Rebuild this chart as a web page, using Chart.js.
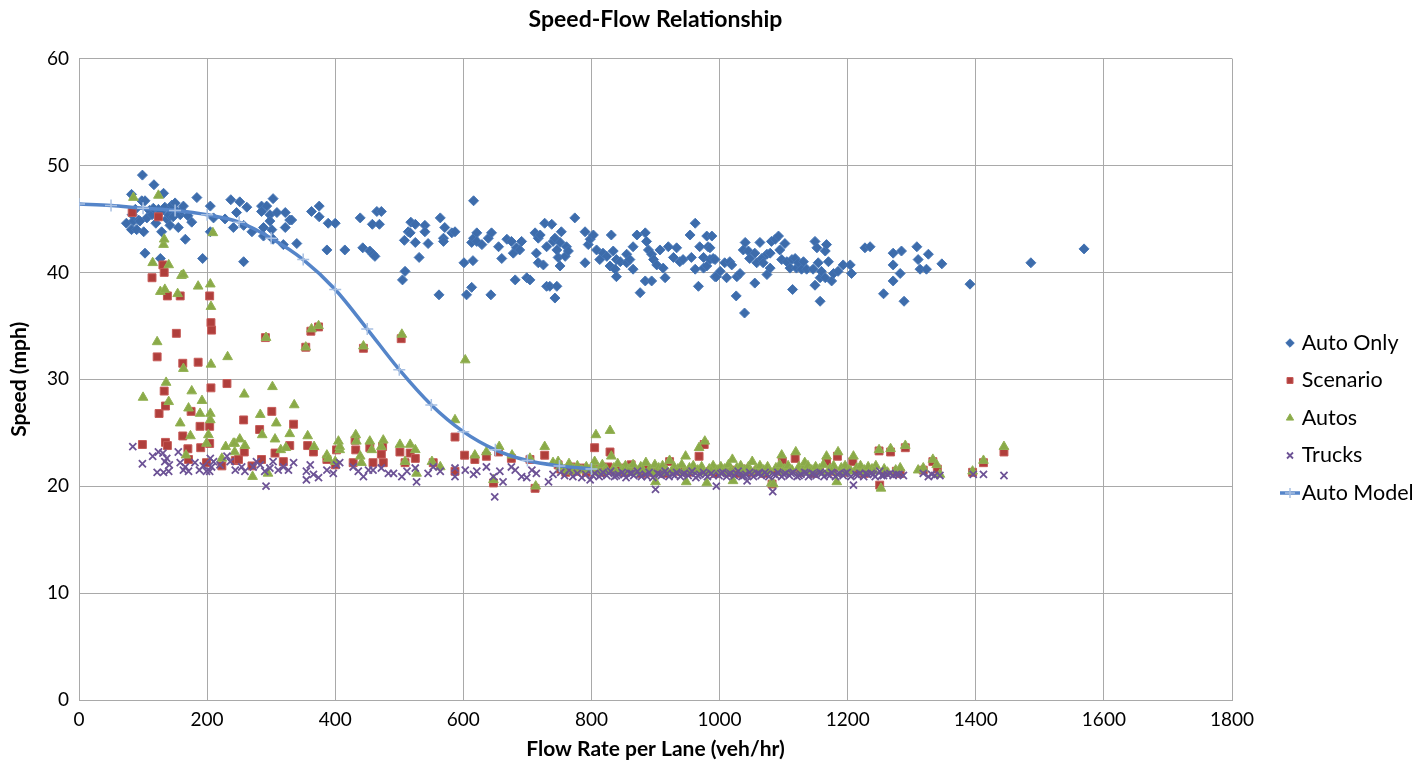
<!DOCTYPE html>
<html>
<head>
<meta charset="utf-8">
<title>Speed-Flow Relationship</title>
<script src="https://cdn.jsdelivr.net/npm/chart.js@4.4.1/dist/chart.umd.min.js"></script>
<style>
  html, body { margin: 0; padding: 0; background: #fff; }
  #wrap { width: 1428px; height: 762px; }
</style>
</head>
<body>
<div id="wrap"><canvas id="mycanvas" width="1428" height="762"></canvas></div>
<script>
// [flow (veh/hr/lane), speed (mph)]
var autoOnly = [
	[74,44.6],[82,47.3],[82,44.0],[83,45.4],[85,44.8],[88,45.9],[90,44.0],[93,44.9],[95,44.8],[98,46.7],[99,49.1],
	[101,43.8],[103,46.7],[103,41.8],[106,45.1],[110,45.8],[114,45.4],[116,46.0],[117,48.2],[120,44.6],[124,45.9],[127,45.6],[127,41.3],
	[129,43.8],[132,47.4],[134,46.1],[137,45.0],[140,45.4],[142,45.9],[142,44.4],[145,46.3],[147,45.2],[150,46.5],[153,45.7],[155,44.2],
	[158,45.4],[160,45.8],[163,46.2],[166,43.1],[170,45.3],[176,44.7],[184,47.0],[193,41.3],[205,46.2],[205,43.8],[210,45.1],[228,45.0],
	[237,46.8],[241,44.2],[246,45.6],[251,46.6],[257,44.4],[257,41.0],[262,46.1],[270,43.8],[285,46.2],[285,45.7],
	[288,44.2],[288,43.4],[293,46.2],[298,45.4],[298,44.8],[301,44.0],[303,46.9],[303,43.1],[309,45.6],[319,42.6],
	[322,45.6],[322,44.2],[329,44.9],[332,44.9],[340,42.7],[363,45.7],[375,46.2],[375,45.2],[387,42.1],[389,44.6],
	[400,44.6],[415,42.1],[439,45.1],[443,42.3],[454,42.0],[458,44.5],[459,41.7],[462,41.5],[465,45.7],[469,44.5],
	[472,45.7],[505,39.3],[508,43.0],[509,40.1],[514,43.8],[517,43.7],[518,44.7],[525,44.5],[525,42.8],[531,41.4],
	[540,44.4],[540,43.8],[545,42.7],[562,37.9],[564,45.1],[569,43.2],[569,42.9],[571,44.2],[582,43.7],[587,43.8],
	[601,40.9],[605,37.9],[613,42.8],[613,38.6],[615,41.1],[616,46.7],[616,43.2],[621,43.7],[621,42.9],[629,42.6],
	[639,43.2],[643,37.9],[644,43.7],[655,42.4],[660,41.3],[668,43.1],[675,42.9],[678,41.8],[681,39.3],[683,42.3],
	[688,42.1],[691,42.9],[699,39.5],[704,39.3],[712,43.7],[714,41.8],[717,43.2],[717,40.9],[720,43.5],[725,40.7],
	[727,44.6],[730,42.4],[730,38.7],[735,38.7],[738,44.5],[740,42.9],[743,43.2],[743,37.6],[746,42.1],[746,38.7],
	[748,41.4],[751,42.8],[751,40.6],[753,43.8],[759,41.5],[761,42.4],[764,42.0],[774,45.1],[790,43.8],[790,40.9],
	[795,42.6],[798,43.1],[803,43.5],[808,42.1],[813,41.2],[818,41.8],[824,41.5],[829,40.6],[831,43.5],[834,42.0],
	[837,40.3],[839,41.2],[839,39.6],[845,41.0],[855,41.7],[855,40.9],[860,41.2],[865,42.4],[865,40.3],[871,43.5],
	[876,38.1],[884,43.7],[884,39.2],[886,42.9],[889,42.1],[894,41.7],[894,39.2],[897,41.2],[902,40.7],[907,42.1],
	[912,40.4],[915,39.5],[920,42.4],[928,41.4],[933,42.3],[938,41.0],[943,41.2],[954,43.5],[956,41.4],[962,44.6],
	[962,40.3],[967,38.7],[969,42.4],[975,41.4],[975,40.4],[980,43.4],[980,40.6],[982,42.4],[985,42.3],[985,41.2],
	[988,43.4],[990,41.3],[993,41.2],[993,39.6],[995,39.6],[1001,40.1],[1008,40.9],[1011,39.5],[1016,41.0],[1019,40.7],
	[1026,37.8],[1027,39.6],[1032,39.9],[1037,42.1],[1039,36.2],[1040,42.8],[1045,42.0],[1047,41.3],[1055,41.8],[1055,39.0],
	[1058,40.9],[1063,42.8],[1066,41.3],[1068,40.9],[1074,41.7],[1074,39.8],[1079,41.8],[1079,40.4],[1081,42.9],[1087,43.1],
	[1092,43.4],[1094,42.1],[1097,41.2],[1102,42.7],[1105,41.0],[1110,40.4],[1113,41.2],[1114,38.4],[1118,41.3],[1120,40.4],
	[1123,40.9],[1128,40.3],[1131,41.0],[1136,40.3],[1146,40.3],[1149,42.9],[1149,38.8],[1152,42.3],[1154,40.9],[1157,39.5],
	[1157,37.3],[1159,40.1],[1165,42.0],[1165,39.5],[1167,42.6],[1170,41.0],[1175,39.2],[1178,39.9],[1185,40.1],[1193,40.7],
	[1204,40.7],[1206,39.9],[1227,42.3],[1235,42.4],[1256,38.0],[1271,41.8],[1271,40.7],[1271,39.2],[1282,39.9],[1284,42.0],
	[1288,37.3],[1308,42.4],[1310,41.2],[1313,40.3],[1323,40.3],[1326,41.7],[1347,40.8],[1391,38.9],[1486,40.9],[1569,42.2]
];

var scenario = [
	[83,45.6],[99,23.9],[114,39.5],[122,32.1],[124,45.2],[125,26.8],[131,40.7],[133,40.0],[133,28.9],[135,27.5],
	[135,24.1],[138,37.8],[138,23.8],[152,34.3],[158,37.8],[162,31.5],[162,24.7],[170,23.5],[171,22.5],[175,27.0],
	[186,31.6],[189,25.6],[190,23.6],[199,22.2],[204,37.8],[204,25.6],[204,24.0],[206,35.3],[206,29.2],[207,34.6],
	[223,21.9],[231,29.6],[244,22.4],[249,22.5],[257,26.2],[258,23.2],[270,21.9],[282,25.3],[285,22.5],[291,33.9],
	[301,27.0],[306,23.1],[319,22.3],[329,23.8],[335,25.8],[354,33.0],[357,23.8],[362,34.5],[366,23.2],[374,34.9],
	[387,22.5],[400,22.0],[402,23.4],[428,22.2],[431,24.3],[432,23.4],[444,32.9],[454,23.6],[459,22.2],[472,23.0],
	[474,23.7],[475,22.2],[501,23.2],[503,33.8],[509,22.2],[517,23.1],[525,22.6],[553,22.2],[587,24.6],[587,21.4],
	[602,22.9],[618,22.5],[636,22.8],[647,20.3],[655,23.2],[675,22.6],[704,22.5],[712,19.8],[727,22.9],[748,22.0],
	[752,21.6],[760,21.3],[768,21.8],[776,21.4],[784,21.7],[792,21.3],[798,21.6],[805,23.6],[810,21.6],[818,21.3],
	[826,21.8],[829,23.2],[836,21.4],[844,21.7],[852,21.3],[862,22.0],[870,21.5],[878,21.2],[888,21.6],[896,21.3],
	[906,21.5],[914,21.2],[922,22.3],[932,21.4],[940,21.6],[950,21.3],[958,21.5],[968,22.8],[976,23.9],[986,21.4],
	[994,21.2],[1004,21.6],[1012,21.3],[1022,21.5],[1030,21.2],[1040,21.6],[1050,21.3],[1060,21.5],[1070,21.2],[1082,20.2],
	[1090,21.4],[1098,22.3],[1108,21.5],[1118,22.6],[1126,21.3],[1136,21.6],[1146,21.2],[1156,21.5],[1167,22.3],[1176,21.4],
	[1184,22.8],[1194,21.3],[1208,22.3],[1216,21.4],[1226,21.2],[1236,21.5],[1249,23.3],[1250,20.1],[1258,21.3],[1267,23.2],
	[1276,21.4],[1282,21.2],[1290,23.6],[1318,21.5],[1333,22.3],[1340,21.6],[1395,21.3],[1412,22.2],[1444,23.2]
];

var autos = [
	[85,47.0],[100,28.3],[115,40.9],[122,33.5],[124,47.2],[127,38.2],[132,42.6],[133,43.1],[134,38.4],[136,29.7],
	[140,40.7],[140,27.9],[154,38.0],[158,25.9],[160,39.7],[163,39.8],[163,31.0],[167,22.9],[171,27.3],[174,24.7],
	[176,28.9],[186,38.7],[189,26.8],[192,28.0],[199,24.0],[202,24.8],[205,38.9],[205,26.8],[205,26.2],[206,36.8],
	[206,31.4],[209,43.7],[223,22.6],[229,23.7],[232,32.1],[241,24.0],[243,24.0],[243,23.2],[251,24.4],[258,28.6],
	[259,23.8],[271,20.9],[283,26.7],[286,24.8],[292,33.9],[295,21.2],[302,29.3],[306,24.4],[308,25.9],[315,23.4],
	[323,23.6],[329,24.9],[336,27.6],[354,33.0],[357,24.7],[363,34.7],[367,23.7],[374,35.0],[387,22.9],[389,22.6],
	[400,22.3],[405,24.2],[407,23.4],[407,23.7],[432,24.8],[433,24.2],[439,22.8],[441,22.2],[444,33.1],[454,24.2],
	[457,23.4],[472,23.7],[475,24.3],[501,23.9],[504,34.2],[509,22.3],[517,23.9],[525,23.4],[527,21.2],[551,22.3],
	[564,21.8],[587,26.2],[603,31.8],[618,22.9],[636,23.2],[647,20.6],[656,23.7],[676,22.9],[704,22.6],[713,20.0],
	[727,23.7],[740,22.2],[748,22.3],[752,21.8],[758,21.5],[765,22.1],[767,21.4],[772,21.6],[778,21.9],[785,21.5],
	[792,21.8],[798,21.5],[803,21.8],[805,22.3],[807,24.8],[811,21.5],[817,22.0],[823,21.6],[829,25.2],[831,22.8],
	[835,21.7],[841,22.1],[847,21.5],[853,21.9],[859,21.6],[865,22.0],[871,21.4],[877,21.8],[885,22.2],[891,21.6],
	[899,22.0],[900,20.4],[905,21.7],[911,21.9],[917,21.5],[922,22.4],[929,21.8],[935,21.6],[941,22.0],[947,22.8],
	[948,20.4],[953,21.7],[959,21.9],[966,21.5],[968,23.6],[972,21.8],[977,24.2],[980,20.3],[984,21.6],[990,21.9],
	[996,21.5],[1002,21.8],[1008,21.6],[1014,22.0],[1020,22.5],[1021,20.5],[1027,21.7],[1033,21.9],[1039,21.5],[1045,21.8],
	[1051,22.3],[1057,21.6],[1063,21.9],[1069,21.5],[1075,21.8],[1081,20.3],[1084,20.2],[1088,21.7],[1094,22.0],[1097,22.9],
	[1101,21.6],[1107,21.9],[1113,21.5],[1119,23.2],[1124,21.8],[1130,21.6],[1133,22.2],[1138,21.9],[1144,21.5],[1150,21.8],
	[1156,21.6],[1162,22.0],[1167,22.8],[1172,21.6],[1178,21.9],[1183,20.4],[1185,23.2],[1190,21.7],[1196,21.9],[1202,21.5],
	[1209,22.8],[1214,21.7],[1220,21.9],[1226,21.5],[1232,21.8],[1238,21.6],[1244,21.9],[1249,23.4],[1252,19.8],[1257,21.6],
	[1267,23.5],[1275,21.5],[1282,21.7],[1290,23.8],[1310,21.5],[1318,21.7],[1333,22.5],[1339,22.0],[1344,21.1],[1395,21.4],
	[1412,22.4],[1444,23.7],
	[808,21.3],[820,21.4],[838,21.3],[850,21.4],[868,21.3],[880,21.5],[896,21.3],[914,21.3],[926,21.4],[944,21.3],
	[956,21.4],[975,21.3],[987,21.4],[1005,21.3],[1017,21.4],[1036,21.3],[1048,21.4],[1066,21.3],[1078,21.4],[1098,21.3],
	[1110,21.4],[1127,21.3],[1141,21.4],[1159,21.3],[1175,21.4],[1193,21.3],[1205,21.4],[1223,21.3],[1241,21.4],[1262,21.3]
];

var trucks = [
	[84,23.7],[99,22.1],[115,22.8],[122,21.3],[124,23.2],[131,23.1],[132,21.3],[134,22.3],[137,22.6],[140,21.4],
	[141,22.0],[155,23.2],[158,22.2],[163,21.5],[166,21.8],[171,21.4],[181,22.2],[188,21.5],[194,21.9],[199,21.4],
	[204,21.4],[205,22.6],[207,21.8],[210,22.3],[220,22.0],[231,22.8],[236,22.3],[244,21.5],[254,21.8],[259,21.4],
	[272,21.8],[277,22.3],[283,22.0],[290,21.4],[292,20.0],[298,21.7],[303,22.3],[311,21.5],[319,21.8],[327,21.5],
	[335,22.2],[355,21.4],[355,20.6],[361,22.0],[366,21.1],[374,20.8],[387,21.5],[397,21.2],[402,22.0],[407,22.2],
	[428,21.8],[436,21.4],[444,20.9],[452,21.5],[459,21.5],[472,21.7],[483,21.2],[491,21.2],[504,20.9],[512,21.4],
	[525,21.7],[527,20.4],[545,21.2],[553,21.8],[564,21.4],[587,21.7],[587,20.9],[603,21.5],[616,21.1],[621,21.4],
	[636,21.8],[647,20.9],[649,19.0],[657,21.4],[662,20.4],[675,21.8],[681,21.5],[691,20.9],[699,20.8],[707,21.5],
	[714,21.2],[733,20.4],[740,21.1],[752,21.3],[758,21.0],[765,21.5],[771,20.9],[778,21.2],[785,20.8],[791,21.1],
	[798,20.6],[805,21.2],[812,20.9],[818,21.3],[824,21.0],[830,21.4],[836,20.9],[842,21.1],[848,21.3],[854,20.8],
	[860,21.2],[866,21.0],[872,21.4],[878,20.9],[884,21.1],[890,21.3],[896,20.8],[900,19.7],[903,21.2],[909,21.0],
	[915,21.4],[921,20.9],[927,21.1],[933,21.3],[939,20.9],[945,21.2],[951,21.0],[957,21.4],[963,20.8],[969,21.1],
	[975,21.3],[981,20.9],[987,21.2],[995,20.0],[999,21.0],[1005,21.3],[1011,20.9],[1017,21.2],[1023,21.0],[1029,21.4],
	[1035,20.9],[1041,21.1],[1043,20.5],[1047,21.3],[1053,20.9],[1059,21.2],[1065,21.0],[1071,21.3],[1077,20.9],[1083,19.5],
	[1085,21.1],[1091,21.3],[1097,20.9],[1103,21.2],[1109,21.0],[1115,21.3],[1121,20.9],[1127,21.1],[1133,21.3],[1139,20.9],
	[1145,21.2],[1151,21.0],[1157,21.3],[1163,20.9],[1169,21.1],[1175,21.3],[1181,20.9],[1187,21.2],[1193,21.0],[1199,21.3],
	[1205,20.9],[1209,20.1],[1213,21.1],[1219,21.2],[1225,20.9],[1231,21.1],[1237,21.2],[1243,20.9],[1250,21.4],[1256,21.0],
	[1262,21.1],[1271,21.0],[1280,21.1],[1287,21.0],[1318,21.2],[1326,20.9],[1336,21.0],[1344,21.0],[1396,21.1],[1412,21.1],
	[1444,21.0],
	[802,21.0],[815,21.1],[827,21.2],[839,21.0],[851,21.1],[863,21.2],[875,21.1],[887,20.9],[906,21.1],[918,21.2],
	[930,21.0],[942,21.1],[954,21.2],[966,21.0],[978,21.1],[990,21.0],[1002,21.2],[1014,21.1],[1026,21.2],[1038,21.0],
	[1050,21.1],[1062,21.2],[1074,21.1],[1088,21.0],[1100,21.1],[1112,21.2],[1124,21.0],[1136,21.2],[1148,21.1],[1160,21.2],
	[1172,21.0],[1184,21.1],[1196,21.2],[1216,21.0],[1228,21.2],[1240,21.1],[1253,21.0],[1266,21.2],[1276,21.1],[1331,21.1]
];

// fitted auto speed-flow curve
var modelFlow  = [0, 50, 100, 150, 200, 250, 300, 350, 400, 450, 500, 550, 600, 650, 700, 750, 800];
var modelSpeed = [46.4, 46.25, 46.0, 45.8, 45.4, 44.7, 43.2, 41.2, 38.4, 34.7, 30.9, 27.6, 25.1, 23.4, 22.4, 21.9, 21.6];

var xTicks = [0, 200, 400, 600, 800, 1000, 1200, 1400, 1600, 1800];
var yTicks = [0, 10, 20, 30, 40, 50, 60];

var FONT = "Lato, 'Liberation Sans', sans-serif";

function toPoints(list) {
	return list.map(function(p) { return {x: p[0], y: p[1]}; });
}

var modelPoints = [];
for (var i in modelFlow) {
	modelPoints.push({x: modelFlow[i], y: modelSpeed[i]});
}

// small line-with-cross swatch for the model legend entry
function modelSwatch() {
	var c = document.createElement('canvas');
	c.width = 20; c.height = 12;
	var g = c.getContext('2d');
	g.strokeStyle = '#5585C9';
	g.lineWidth = 3.5;
	g.beginPath(); g.moveTo(0, 6); g.lineTo(20, 6); g.stroke();
	g.strokeStyle = '#A8C0E2';
	g.lineWidth = 1.5;
	g.beginPath(); g.moveTo(10, 1); g.lineTo(10, 11); g.moveTo(5, 6); g.lineTo(15, 6); g.stroke();
	return c;
}

// keep the plot area clear of the legend and nudge the legend into place
var legendPlace = {
	id: 'legendPlace',
	afterLayout: function(chart) {
		var lg = chart.legend;
		var dx = chart.chartArea.right + 41 - lg.left;
		lg.left += dx;
		lg.right += dx;
		lg.top += 37;
		lg.bottom += 37;
	}
};

var plainTick = function(value) { return String(value); };

var chartdata = {
	datasets: [
		{
			label: 'Auto Only',
			data: toPoints(autoOnly),
			pointStyle: 'rectRot',
			pointRadius: 5,
			backgroundColor: '#3D6CAB',
			borderColor: '#4676B6',
			borderWidth: 1,
			order: 5
		},
		{
			label: 'Scenario',
			data: toPoints(scenario),
			pointStyle: 'rect',
			pointRadius: 5.6,
			backgroundColor: '#B03F3C',
			borderColor: '#C65B58',
			borderWidth: 1,
			order: 4
		},
		{
			label: 'Autos',
			data: toPoints(autos),
			pointStyle: 'triangle',
			pointRadius: 5.6,
			backgroundColor: '#8AAA48',
			borderColor: '#93B254',
			borderWidth: 1,
			order: 3
		},
		{
			label: 'Trucks',
			data: toPoints(trucks),
			pointStyle: 'crossRot',
			pointRadius: 5,
			backgroundColor: '#6D5396',
			borderColor: '#6D5396',
			borderWidth: 1.8,
			order: 2
		},
		{
			label: 'Auto Model',
			data: modelPoints,
			showLine: true,
			cubicInterpolationMode: 'monotone',
			borderColor: '#5585C9',
			backgroundColor: '#A8C0E2',
			borderWidth: 3.5,
			pointStyle: 'cross',
			pointRadius: 6,
			pointBorderColor: '#A8C0E2',
			pointBorderWidth: 1.5,
			order: 1
		}
	]
};

var ctx = document.getElementById('mycanvas');

var speedChart = new Chart(ctx, {
	type: 'scatter',
	data: chartdata,
	plugins: [legendPlace],
	options: {
		responsive: false,
		animation: false,
		devicePixelRatio: 1,
		layout: { padding: { left: 0, right: 10, top: 0, bottom: 0 } },
		plugins: {
			title: {
				display: true,
				fullSize: false,
				text: 'Speed-Flow Relationship',
				color: '#000',
				font: { family: FONT, size: 23, weight: 'bold' },
				padding: { top: 6, bottom: 25 }
			},
			legend: {
				position: 'right',
				reverse: true,
				labels: {
					color: '#000',
					font: { family: FONT, size: 21.5 },
					usePointStyle: true,
					boxWidth: 2,
					boxHeight: 6,
					padding: 16,
					generateLabels: function(chart) {
						var items = Chart.defaults.plugins.legend.labels.generateLabels(chart);
						items.forEach(function(item) {
							if (item.text === 'Auto Model') {
								item.pointStyle = modelSwatch();
							}
						});
						return items;
					}
				}
			},
			tooltip: { enabled: false }
		},
		scales: {
			x: {
				type: 'linear',
				min: 0,
				max: 1800,
				afterBuildTicks: function(scale) {
					scale.ticks = xTicks.map(function(v) { return {value: v}; });
				},
				afterFit: function(scale) {
					scale.height = 62;
					scale.paddingRight = 196;
				},
				grid: { color: '#A9A9A9', lineWidth: 1, drawTicks: false },
				border: { color: '#A9A9A9' },
				ticks: {
					color: '#000',
					padding: 8,
					font: { family: FONT, size: 19 },
					callback: plainTick
				},
				title: {
					display: true,
					text: 'Flow Rate per Lane (veh/hr)',
					color: '#000',
					font: { family: FONT, size: 21, weight: 'bold' },
					padding: { top: 2, bottom: 0 }
				}
			},
			y: {
				type: 'linear',
				min: 0,
				max: 60,
				afterBuildTicks: function(scale) {
					scale.ticks = yTicks.map(function(v) { return {value: v}; });
				},
				afterFit: function(scale) { scale.width = 79; },
				grid: { color: '#A9A9A9', lineWidth: 1, drawTicks: false },
				border: { color: '#A9A9A9' },
				ticks: {
					color: '#000',
					padding: 10,
					font: { family: FONT, size: 19 },
					callback: plainTick
				},
				title: {
					display: true,
					text: 'Speed (mph)',
					color: '#000',
					font: { family: FONT, size: 21, weight: 'bold' },
					padding: { top: 7, bottom: 0 }
				}
			}
		}
	}
});
</script>
</body>
</html>
